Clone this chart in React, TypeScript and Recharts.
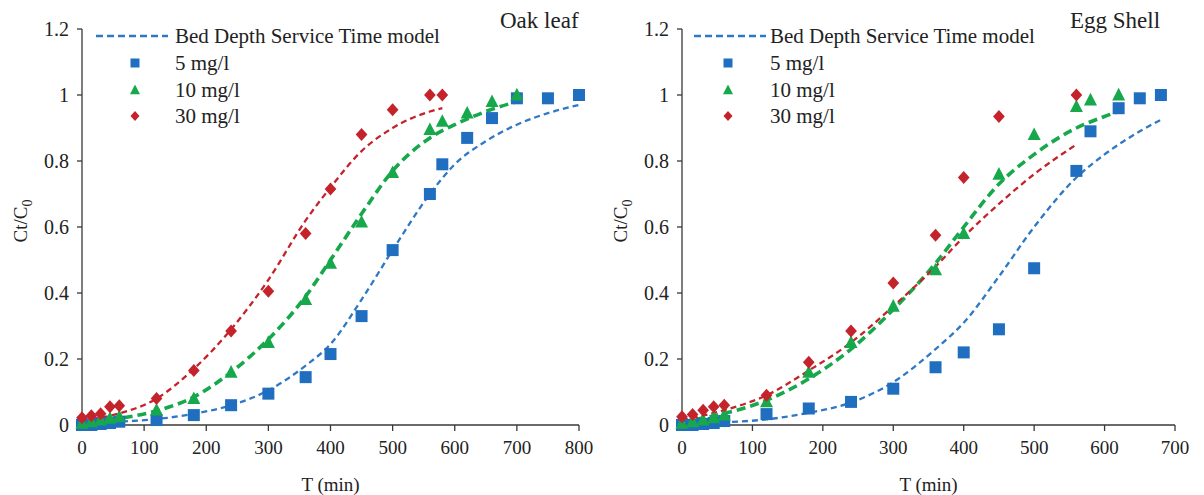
import React from 'react'
import { ComposedChart, Scatter, Line, XAxis, YAxis } from 'recharts'

const FONT = '"Liberation Serif", "Times New Roman", serif'
const BLUE = '#1f6ec0'
const BLUE_LINE = '#2f78c4'
const GREEN = '#16a84b'
const RED = '#c4232b'
const AXIS = '#383838'
const INK = '#222'

const yTicks = [0, 0.2, 0.4, 0.6, 0.8, 1, 1.2]
const oakXTicks = [0, 100, 200, 300, 400, 500, 600, 700, 800]
const eggXTicks = [0, 100, 200, 300, 400, 500, 600, 700]

// Oak leaf - measured points
const oakT5 = [0, 15, 30, 45, 60, 120, 180, 240, 300, 360, 400, 450, 500, 560, 580, 620, 660, 700, 750, 800]
const oakC5 = [0, 0, 0.003, 0.006, 0.01, 0.015, 0.03, 0.06, 0.095, 0.145, 0.215, 0.33, 0.53, 0.7, 0.79, 0.87, 0.93, 0.99, 0.99, 1.0]
const oakT10 = [0, 15, 30, 45, 60, 120, 180, 240, 300, 360, 400, 450, 500, 560, 580, 620, 660, 700]
const oakC10 = [0.005, 0.01, 0.015, 0.02, 0.025, 0.045, 0.08, 0.16, 0.25, 0.38, 0.49, 0.615, 0.765, 0.895, 0.92, 0.945, 0.98, 1.0]
const oakT30 = [0, 15, 30, 45, 60, 120, 180, 240, 300, 360, 400, 450, 500, 560, 580]
const oakC30 = [0.022, 0.028, 0.034, 0.055, 0.058, 0.08, 0.165, 0.285, 0.405, 0.58, 0.715, 0.88, 0.955, 1.0, 1.0]

// Oak leaf - BDST model curves
const oakModelT5 = [0, 60, 120, 180, 240, 300, 360, 400, 450, 500, 560, 600, 650, 700, 750, 800]
const oakModel5 = [0.005, 0.01, 0.018, 0.034, 0.06, 0.105, 0.18, 0.245, 0.38, 0.53, 0.7, 0.79, 0.86, 0.91, 0.945, 0.97]
const oakModelT10 = [0, 60, 120, 180, 240, 300, 360, 400, 450, 500, 560, 600, 650, 700]
const oakModel10 = [0.006, 0.02, 0.043, 0.085, 0.16, 0.26, 0.39, 0.5, 0.64, 0.77, 0.87, 0.91, 0.95, 0.98]
const oakModelT30 = [0, 60, 120, 180, 240, 300, 360, 400, 450, 500, 560, 580]
const oakModel30 = [0.015, 0.035, 0.08, 0.17, 0.29, 0.44, 0.62, 0.72, 0.83, 0.9, 0.95, 0.96]

// Egg shell - measured points
const eggT5 = [0, 15, 30, 45, 60, 120, 180, 240, 300, 360, 400, 450, 500, 560, 580, 620, 650, 680]
const eggC5 = [0, 0, 0.003, 0.006, 0.012, 0.033, 0.05, 0.07, 0.11, 0.175, 0.22, 0.29, 0.475, 0.77, 0.89, 0.96, 0.99, 1.0]
const eggT10 = [0, 15, 30, 45, 60, 120, 180, 240, 300, 360, 400, 450, 500, 560, 580, 620]
const eggC10 = [0.005, 0.01, 0.015, 0.022, 0.03, 0.07, 0.16, 0.25, 0.36, 0.47, 0.58, 0.76, 0.88, 0.965, 0.985, 1.0]
const eggT30 = [0, 15, 30, 45, 60, 120, 180, 240, 300, 360, 400, 450, 560]
const eggC30 = [0.025, 0.032, 0.045, 0.055, 0.06, 0.09, 0.19, 0.285, 0.43, 0.575, 0.75, 0.935, 1.0]

// Egg shell - BDST model curves
const eggModelT5 = [0, 60, 120, 180, 240, 300, 360, 400, 450, 500, 560, 600, 650, 680]
const eggModel5 = [0.003, 0.008, 0.017, 0.037, 0.068, 0.13, 0.23, 0.31, 0.45, 0.6, 0.75, 0.82, 0.89, 0.925]
const eggModelT10 = [0, 60, 120, 180, 240, 300, 360, 400, 450, 500, 560, 600, 620]
const eggModel10 = [0.01, 0.035, 0.075, 0.14, 0.23, 0.35, 0.49, 0.6, 0.73, 0.82, 0.9, 0.935, 0.95]
const eggModelT30 = [0, 60, 120, 180, 240, 300, 360, 400, 450, 500, 560]
const eggModel30 = [0.015, 0.045, 0.09, 0.165, 0.25, 0.36, 0.48, 0.57, 0.67, 0.76, 0.85]

const legendLabels = ['Bed Depth Service Time model', '5 mg/l', '10 mg/l', '30 mg/l']

const toPoints = (t: number[], v: number[]) => t.map((x, i) => ({ t: x, v: v[i] }))

const Square = ({ cx, cy, s = 12 }: any) => (
  <rect x={cx - s / 2} y={cy - s / 2} width={s} height={s} fill={BLUE} />
)
const Triangle = ({ cx, cy, s = 13 }: any) => (
  <polygon points={`${cx},${cy - s * 0.55} ${cx + s / 2},${cy + s * 0.42} ${cx - s / 2},${cy + s * 0.42}`} fill={GREEN} />
)
const Diamond = ({ cx, cy, s = 13 }: any) => (
  <polygon points={`${cx},${cy - s / 2} ${cx + s * 0.45},${cy} ${cx},${cy + s / 2} ${cx - s * 0.45},${cy}`} fill={RED} />
)

const textStyle = { fontFamily: FONT, fill: INK }

const XTick = ({ x, y, payload }: any) => (
  <text x={x} y={y} dy="0.71em" textAnchor="middle" fontSize={19} fontFamily={FONT} style={textStyle}>
    {String(payload.value)}
  </text>
)

const YTick = ({ x, y, payload }: any) => (
  <text x={x} y={y} dy="0.35em" textAnchor="end" fontSize={20} fontFamily={FONT} style={textStyle}>
    {String(payload.value)}
  </text>
)

const yLabel = (props: any) => {
  const { viewBox } = props
  const x = viewBox.x + viewBox.width - 62
  const y = viewBox.y + viewBox.height / 2 - 6
  return (
    <text x={x} y={y} transform={`rotate(-90, ${x}, ${y})`} textAnchor="middle" dy="0.35em"
      fontSize={19} fontFamily={FONT} style={textStyle}>
      <tspan>Ct/C</tspan>
      <tspan dy={5} fontSize={14}>0</tspan>
    </text>
  )
}

const xLabel = (props: any) => {
  const { viewBox } = props
  return (
    <text x={viewBox.x + viewBox.width / 2} y={viewBox.y + 59} dy="0.35em" textAnchor="middle"
      fontSize={19} fontFamily={FONT} style={textStyle}>
      T (min)
    </text>
  )
}

function Legend({ left, marker, text }: { left: number; marker: number; text: number }) {
  const rows = [36, 63, 90, 116]
  return (
    <div style={{ position: 'absolute', left: 0, top: 0, fontFamily: FONT, fontSize: 21, color: INK }}>
      <svg style={{ position: 'absolute', left: 0, top: 0 }} width={200} height={130}>
        <line x1={left} x2={left + 72} y1={rows[0]} y2={rows[0]} stroke={BLUE_LINE} strokeWidth={2.4} strokeDasharray="7 4" />
        <Square cx={marker} cy={rows[1]} s={9} />
        <Triangle cx={marker} cy={rows[2]} s={10} />
        <Diamond cx={marker} cy={rows[3]} s={10} />
      </svg>
      {legendLabels.map((lab, i) => (
        <div key={lab} style={{ position: 'absolute', left: text, top: rows[i] - 13, whiteSpace: 'nowrap', lineHeight: '26px' }}>
          {lab}
        </div>
      ))}
    </div>
  )
}

type Pt = { t: number; v: number }

type PanelProps = {
  left: number
  width: number
  margin: { top: number; right: number; bottom: number; left: number }
  xMax: number
  xTicks: number[]
  title: string
  titleLeft: number
  legend: { left: number; marker: number; text: number }
  p5: Pt[]
  p10: Pt[]
  p30: Pt[]
  m5: Pt[]
  m10: Pt[]
  m30: Pt[]
}

function Panel(p: PanelProps) {
  return (
    <div style={{ position: 'absolute', left: p.left, top: 0, width: p.width, height: 495, fontFamily: FONT }}>
      <ComposedChart width={p.width} height={495} margin={p.margin} style={{ fontFamily: FONT }}>
        <XAxis type="number" dataKey="t" domain={[0, p.xMax]} ticks={p.xTicks} height={30}
          stroke={AXIS} strokeWidth={1.3} tickSize={6} tickMargin={10} tick={<XTick />} label={xLabel} />
        <YAxis type="number" domain={[0, 1.2]} ticks={yTicks} width={60}
          stroke={AXIS} strokeWidth={1.3} tickSize={5} tickMargin={8} tick={<YTick />} label={yLabel} />
        <Line data={p.m5} dataKey="v" type="monotone" stroke={BLUE_LINE} strokeWidth={2.3} strokeDasharray="6 4" dot={false} isAnimationActive={false} />
        <Line data={p.m10} dataKey="v" type="monotone" stroke={GREEN} strokeWidth={3.6} strokeDasharray="9 5" dot={false} isAnimationActive={false} />
        <Line data={p.m30} dataKey="v" type="monotone" stroke={RED} strokeWidth={2.3} strokeDasharray="6 4" dot={false} isAnimationActive={false} />
        <Scatter data={p.p5} dataKey="v" shape={(s: any) => <Square cx={s.cx} cy={s.cy} />} isAnimationActive={false} />
        <Scatter data={p.p10} dataKey="v" shape={(s: any) => <Triangle cx={s.cx} cy={s.cy} />} isAnimationActive={false} />
        <Scatter data={p.p30} dataKey="v" shape={(s: any) => <Diamond cx={s.cx} cy={s.cy} />} isAnimationActive={false} />
      </ComposedChart>
      <Legend {...p.legend} />
      <div style={{ position: 'absolute', left: p.titleLeft, top: 8, fontFamily: FONT, fontSize: 23, color: INK, whiteSpace: 'nowrap', lineHeight: '26px' }}>
        {p.title}
      </div>
    </div>
  )
}

export default function App() {
  return (
    <div style={{ position: 'absolute', left: 0, top: 0, width: 1204, height: 495, background: '#fff' }}>
      <Panel
        left={0}
        width={600}
        margin={{ top: 29, right: 21, bottom: 40, left: 22 }}
        xMax={800}
        xTicks={oakXTicks}
        title="Oak leaf"
        titleLeft={500}
        legend={{ left: 96, marker: 135, text: 175 }}
        p5={toPoints(oakT5, oakC5)}
        p10={toPoints(oakT10, oakC10)}
        p30={toPoints(oakT30, oakC30)}
        m5={toPoints(oakModelT5, oakModel5)}
        m10={toPoints(oakModelT10, oakModel10)}
        m30={toPoints(oakModelT30, oakModel30)}
      />
      <Panel
        left={600}
        width={604}
        margin={{ top: 29, right: 29, bottom: 40, left: 22 }}
        xMax={700}
        xTicks={eggXTicks}
        title="Egg Shell"
        titleLeft={470}
        legend={{ left: 94, marker: 128, text: 170 }}
        p5={toPoints(eggT5, eggC5)}
        p10={toPoints(eggT10, eggC10)}
        p30={toPoints(eggT30, eggC30)}
        m5={toPoints(eggModelT5, eggModel5)}
        m10={toPoints(eggModelT10, eggModel10)}
        m30={toPoints(eggModelT30, eggModel30)}
      />
    </div>
  )
}
